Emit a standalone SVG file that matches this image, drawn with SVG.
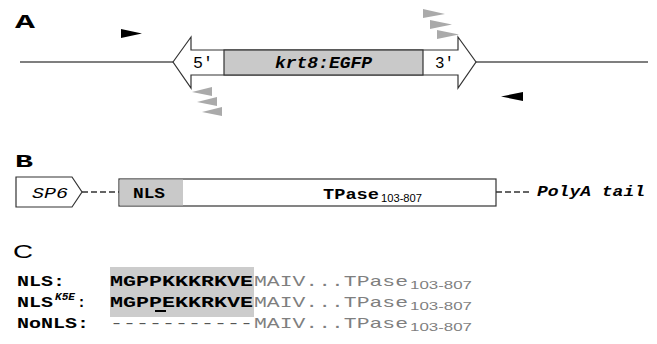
<svg xmlns="http://www.w3.org/2000/svg" width="657" height="344" viewBox="0 0 657 344">
<style>
.mono{font-family:"Liberation Mono","DejaVu Sans Mono",monospace}
.b{font-weight:bold}
.i{font-style:italic}
.sans{font-family:"Liberation Sans",Arial,sans-serif}
.ln{stroke:#555;stroke-width:1.3;fill:none}
.box{stroke:#333;stroke-width:1.2}
.dash{stroke:#333;stroke-width:1.3;stroke-dasharray:6 3;fill:none}
.pg{fill:#aaaaaa}
.pk{fill:#000}
.gr{fill:#7f7f7f}
</style>
<rect width="657" height="344" fill="#fff"/>
<g id="panelA">
  <text class="mono b" x="15" y="28" font-size="20" textLength="20" lengthAdjust="spacingAndGlyphs">A</text>
  <g id="connectors">
    <line class="ln" x1="20" y1="62" x2="173" y2="62"/>
    <line class="ln" x1="476" y1="62" x2="648" y2="62"/>
    <line class="dash" x1="82" y1="192" x2="119" y2="192"/>
    <line class="dash" x1="496" y1="192" x2="532" y2="192"/>
  </g>
  <g id="construct">
    <polygon class="box" fill="#fff" points="173,62 191,37 191,50 458,50 458,37 476,62 458,88 458,75 191,75 191,88"/>
    <rect class="box" x="224" y="50" width="199" height="25" fill="#c9c9c9"/>
    <text class="mono" x="193" y="68" font-size="16" textLength="20" lengthAdjust="spacingAndGlyphs">5′</text>
    <text class="mono b i" x="275" y="68" font-size="17" textLength="97" lengthAdjust="spacingAndGlyphs">krt8:EGFP</text>
    <text class="mono" x="435" y="68" font-size="16" textLength="19" lengthAdjust="spacingAndGlyphs">3′</text>
  </g>
  <g id="primers">
    <polygon class="pk" points="121,29 142,33.5 121,38"/>
    <polygon class="pk" points="523,92 501,96.5 523,101"/>
    <polygon class="pg" points="192,92 212,87 212,96"/>
    <polygon class="pg" points="197,102 217,97 217,106"/>
    <polygon class="pg" points="202,112 222,107 222,116"/>
    <polygon class="pg" points="423,9 445,14 423,18"/>
    <polygon class="pg" points="430,20 452,24.5 430,29"/>
    <polygon class="pg" points="437,30 459,34.5 437,39"/>
  </g>
</g>
<g id="panelB">
  <text class="mono b" x="15" y="167" font-size="19" textLength="18" lengthAdjust="spacingAndGlyphs">B</text>
  <g id="sp6">
    <polygon class="box" fill="#fff" points="16,177 72,177 82,192 72,207 16,207"/>
    <text class="mono i" x="32" y="198" font-size="15" textLength="36" lengthAdjust="spacingAndGlyphs">SP6</text>
  </g>
  <g id="tpase">
    <rect class="box" x="119" y="179" width="377" height="27" fill="#fff"/>
    <rect x="119.6" y="179.6" width="63.4" height="25.8" fill="#c9c9c9"/>
    <text class="mono b" x="133" y="198" font-size="15" textLength="32" lengthAdjust="spacingAndGlyphs">NLS</text>
    <text class="mono b" x="323" y="199" font-size="15" textLength="56" lengthAdjust="spacingAndGlyphs">TPase</text>
    <text class="sans" x="381" y="202" font-size="11" textLength="41" lengthAdjust="spacingAndGlyphs">103-807</text>
  </g>
  <g id="polya">
    <text class="mono b i" x="537" y="196" font-size="15" textLength="108" lengthAdjust="spacingAndGlyphs">PolyA tail</text>
  </g>
</g>
<g id="panelC">
  <text class="sans" x="13" y="258" font-size="18" textLength="20" lengthAdjust="spacingAndGlyphs">C</text>
  <rect x="110" y="267" width="144" height="50" fill="#cccccc"/>
  <g id="row1">
    <text class="mono b" x="17" y="286" font-size="15" textLength="48" lengthAdjust="spacingAndGlyphs">NLS:</text>
    <text class="mono b" x="110" y="286" font-size="15" textLength="143" lengthAdjust="spacingAndGlyphs">MGPPKKKRKVE</text>
    <text class="mono gr" x="254" y="286" font-size="15" textLength="154" lengthAdjust="spacingAndGlyphs">MAIV...TPase</text>
    <text class="sans gr" x="410" y="289" font-size="11" textLength="62" lengthAdjust="spacingAndGlyphs">103-807</text>
  </g>
  <g id="row2">
    <text class="mono b" x="17" y="307" font-size="15" textLength="36" lengthAdjust="spacingAndGlyphs">NLS</text>
    <text class="mono b i" x="55" y="300" font-size="10" textLength="20" lengthAdjust="spacingAndGlyphs">K5E</text>
    <text class="mono b" x="77" y="307" font-size="15">:</text>
    <text class="mono b" x="110" y="307" font-size="15" textLength="143" lengthAdjust="spacingAndGlyphs">MGPPEKKRKVE</text>
    <rect x="155" y="310" width="11" height="2" fill="#000"/>
    <text class="mono gr" x="254" y="307" font-size="15" textLength="154" lengthAdjust="spacingAndGlyphs">MAIV...TPase</text>
    <text class="sans gr" x="410" y="310" font-size="11" textLength="62" lengthAdjust="spacingAndGlyphs">103-807</text>
  </g>
  <g id="row3">
    <text class="mono b" x="17" y="328" font-size="15" textLength="72" lengthAdjust="spacingAndGlyphs">NoNLS:</text>
    <text class="mono" x="110" y="328" font-size="15" textLength="143" lengthAdjust="spacingAndGlyphs" fill="#555">-----------</text>
    <text class="mono gr" x="254" y="328" font-size="15" textLength="154" lengthAdjust="spacingAndGlyphs">MAIV...TPase</text>
    <text class="sans gr" x="410" y="331" font-size="11" textLength="62" lengthAdjust="spacingAndGlyphs">103-807</text>
  </g>
</g>
</svg>
